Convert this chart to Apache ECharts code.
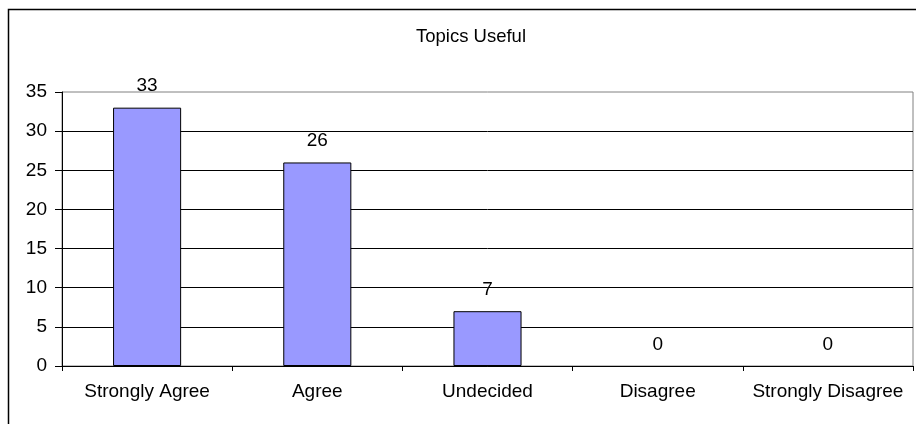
<!DOCTYPE html>
<html>
<head>
<meta charset="utf-8">
<script src="https://cdn.jsdelivr.net/npm/echarts@6/dist/echarts.min.js"></script>
<style>
  html, body { margin: 0; padding: 0; background: #fff; }
  #chart { width: 916px; height: 424px; }
</style>
</head>
<body>
<div id="chart"></div>
<script>
// Survey responses: how useful were the topics
const chartTitle = 'Topics Useful';
const categories = ['Strongly Agree', 'Agree', 'Undecided', 'Disagree', 'Strongly Disagree'];
const responses = [33, 26, 7, 0, 0];
const yMin = 0, yMax = 35, yStep = 5;

const font = '"Liberation Sans", Arial, sans-serif';
const chart = echarts.init(document.getElementById('chart'), null, { renderer: 'canvas' });

// empty categories get no outline, so no flat line is drawn on the axis
const barData = responses.map(v => ({
  value: v,
  itemStyle: { borderWidth: v === 0 ? 0 : 1 }
}));

chart.setOption({
  animation: false,
  backgroundColor: '#fff',
  title: {
    text: chartTitle,
    left: 411,
    top: 22,
    textStyle: { fontFamily: font, fontSize: 18.5, fontWeight: 'normal', color: '#000' }
  },
  graphic: [{
    type: 'rect',
    shape: { x: 8.5, y: 9.5, width: 940, height: 440 },
    style: { fill: 'none', stroke: '#000', lineWidth: 1.5 },
    silent: true,
    z: -1
  }],
  grid: {
    left: 62, right: 3, top: 92, bottom: 58,
    show: true, borderColor: '#808080', borderWidth: 1
  },
  xAxis: {
    type: 'category',
    data: categories,
    boundaryGap: true,
    axisLine: { lineStyle: { color: '#000', width: 1 } },
    axisTick: { show: true, length: 5, lineStyle: { color: '#000' } },
    axisLabel: { fontFamily: font, fontSize: 19, color: '#000', margin: 16, interval: 0 }
  },
  yAxis: {
    type: 'value',
    min: yMin, max: yMax, interval: yStep,
    axisLine: { show: true, lineStyle: { color: '#000', width: 1 } },
    axisTick: { show: true, length: 7, lineStyle: { color: '#000' } },
    axisLabel: { fontFamily: font, fontSize: 19, color: '#000', margin: 15 },
    splitLine: { show: true, showMaxLine: false, lineStyle: { color: '#000', width: 1 } }
  },
  series: [{
    type: 'bar',
    data: barData,
    barWidth: '40%',
    itemStyle: { color: '#9999FF', borderColor: '#000', borderWidth: 1 },
    label: {
      show: true, position: 'top', distance: 12,
      fontFamily: font, fontSize: 19, color: '#000'
    }
  }]
});
</script>
</body>
</html>
